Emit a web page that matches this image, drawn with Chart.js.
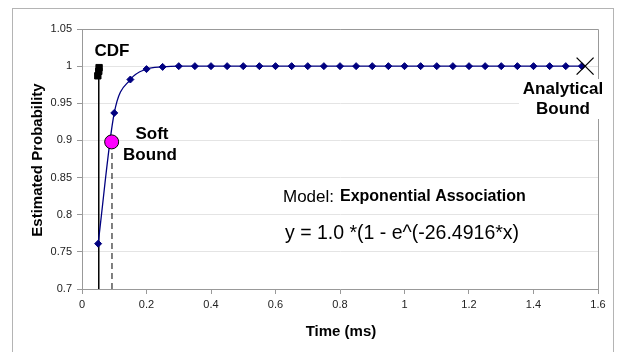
<!DOCTYPE html>
<html>
<head>
<meta charset="utf-8">
<script src="https://cdn.jsdelivr.net/npm/chart.js@4"></script>
<style>
  html, body { margin: 0; padding: 0; background: #fff; }
</style>
</head>
<body>
<canvas id="grafico" width="619" height="352"></canvas>
<script>
// datos
const tiempos = [0.05, 0.1, 0.15, 0.2, 0.25, 0.3, 0.35, 0.4, 0.45, 0.5, 0.55, 0.6, 0.65, 0.7, 0.75,
  0.8, 0.85, 0.9, 0.95, 1.0, 1.05, 1.1, 1.15, 1.2, 1.25, 1.3, 1.35, 1.4, 1.45, 1.5, 1.55];
const probs = [0.761, 0.937, 0.982, 0.996, 0.999, 1, 1, 1, 1, 1, 1, 1, 1, 1, 1,
  1, 1, 1, 1, 1, 1, 1, 1, 1, 1, 1, 1, 1, 1, 1, 1];

const cdfX = [0.049, 0.052, 0.053];
const cdfY = [0.987, 0.993, 0.998];
const cdfLineaX = [0.052, 0.052];
const cdfLineaY = [0.7, 0.99];

const softX = [0.092];
const softY = [0.898];
const softLineaX = [0.093, 0.093];
const softLineaY = [0.7, 0.898];

const analiticoX = [1.56];
const analiticoY = [1.0];

const xTicks = [0, 0.2, 0.4, 0.6, 0.8, 1, 1.2, 1.4, 1.6];
const yTicks = [0.7, 0.75, 0.8, 0.85, 0.9, 0.95, 1, 1.05];

function puntos(xs, ys) {
  return xs.map((x, i) => ({ x: x, y: ys[i] }));
}

const fuente = 'Arial, "Liberation Sans", sans-serif';

const textos = {
  id: 'textos',
  beforeDraw(chart) {
    const ctx = chart.ctx;
    ctx.save();
    ctx.fillStyle = '#fff';
    ctx.fillRect(0, 0, chart.width, chart.height);
    ctx.strokeStyle = '#b4b4b4';
    ctx.lineWidth = 1;
    ctx.strokeRect(12.5, 8.5, 601, 360);
    ctx.restore();
  },
  beforeDatasetsDraw(chart) {
    const a = chart.chartArea;
    const ctx = chart.ctx;
    ctx.save();
    ctx.strokeStyle = '#999';
    ctx.lineWidth = 1;
    ctx.beginPath();
    ctx.moveTo(a.left, a.top + 0.5);
    ctx.lineTo(a.right + 0.5, a.top + 0.5);
    ctx.lineTo(a.right + 0.5, a.bottom);
    ctx.stroke();
    ctx.restore();
  },
  afterDraw(chart) {
    const ctx = chart.ctx;
    ctx.save();
    ctx.fillStyle = '#000';
    ctx.textAlign = 'center';
    ctx.textBaseline = 'middle';

    ctx.font = 'bold 17px ' + fuente;
    ctx.fillText('CDF', 112, 51);
    ctx.fillText('Soft', 152, 134);
    ctx.fillText('Bound', 150, 155);

    ctx.fillStyle = '#fff';
    ctx.fillRect(519, 79, 85, 40);
    ctx.fillStyle = '#000';
    ctx.fillText('Analytical', 563, 89);
    ctx.fillText('Bound', 563, 109);

    ctx.textAlign = 'left';
    ctx.font = '17px ' + fuente;
    ctx.fillText('Model:', 283, 197);
    ctx.font = 'bold 16px ' + fuente;
    ctx.fillText('Exponential Association', 340, 197);

    ctx.font = '19.5px ' + fuente;
    ctx.fillText('y = 1.0 *(1 - e^(-26.4916*x)', 285, 234);

    ctx.textAlign = 'center';
    ctx.font = 'bold 15px ' + fuente;
    ctx.fillText('Time (ms)', 341, 332);

    ctx.translate(38, 160);
    ctx.rotate(-Math.PI / 2);
    ctx.fillText('Estimated Probability', 0, 0);
    ctx.restore();
  }
};

new Chart(document.getElementById('grafico'), {
  type: 'scatter',
  data: {
    datasets: [
      {
        label: 'Soft Bound',
        data: puntos(softX, softY),
        pointStyle: 'circle',
        pointRadius: 7,
        pointBackgroundColor: '#ff00ff',
        pointBorderColor: '#000',
        pointBorderWidth: 1,
        clip: false
      },
      {
        label: 'Analytical Bound',
        data: puntos(analiticoX, analiticoY),
        pointStyle: 'crossRot',
        pointRadius: 12,
        pointBorderColor: '#000',
        pointBorderWidth: 1.3,
        clip: false
      },
      {
        label: 'Estimado',
        data: puntos(tiempos, probs),
        showLine: true,
        borderColor: '#000080',
        borderWidth: 1.3,
        tension: 0.4,
        cubicInterpolationMode: 'monotone',
        pointStyle: 'rectRot',
        pointRadius: 3.5,
        pointBackgroundColor: '#000080',
        pointBorderColor: '#000080',
        pointBorderWidth: 1,
        clip: false
      },
      {
        label: 'CDF',
        data: puntos(cdfX, cdfY),
        pointStyle: 'rect',
        pointRadius: 4.5,
        pointBackgroundColor: '#000',
        pointBorderColor: '#000',
        clip: false
      },
      {
        label: 'CDF linea',
        data: puntos(cdfLineaX, cdfLineaY),
        showLine: true,
        borderColor: '#000',
        borderWidth: 1.5,
        pointRadius: 0
      },
      {
        label: 'Soft linea',
        data: puntos(softLineaX, softLineaY),
        showLine: true,
        borderColor: '#000',
        borderWidth: 1,
        borderDash: [6, 4],
        pointRadius: 0
      }
    ]
  },
  options: {
    responsive: false,
    devicePixelRatio: 1,
    animation: false,
    layout: { padding: { left: 0, top: 29, right: 21, bottom: 0 } },
    plugins: {
      legend: { display: false },
      tooltip: { enabled: false }
    },
    scales: {
      x: {
        type: 'linear',
        min: 0,
        max: 1.6,
        afterBuildTicks: (s) => { s.ticks = xTicks.map(v => ({ value: v })); },
        afterFit: (s) => { s.height = 63; },
        ticks: {
          color: '#222',
          font: { family: fuente, size: 11 },
          padding: 4,
          maxRotation: 0,
          callback: (v) => String(parseFloat(v.toFixed(2)))
        },
        grid: { drawOnChartArea: false, tickLength: 5, color: '#999' },
        border: { color: '#999' }
      },
      y: {
        min: 0.7,
        max: 1.05,
        afterBuildTicks: (s) => { s.ticks = yTicks.map(v => ({ value: v })); },
        afterFit: (s) => { s.width = 82; },
        ticks: {
          color: '#222',
          font: { family: fuente, size: 11 },
          padding: 5,
          callback: (v) => String(parseFloat(v.toFixed(2)))
        },
        grid: { color: '#e4e4e4', tickLength: 5, tickColor: '#999' },
        border: { color: '#999' }
      }
    }
  },
  plugins: [textos]
});
</script>
</body>
</html>
